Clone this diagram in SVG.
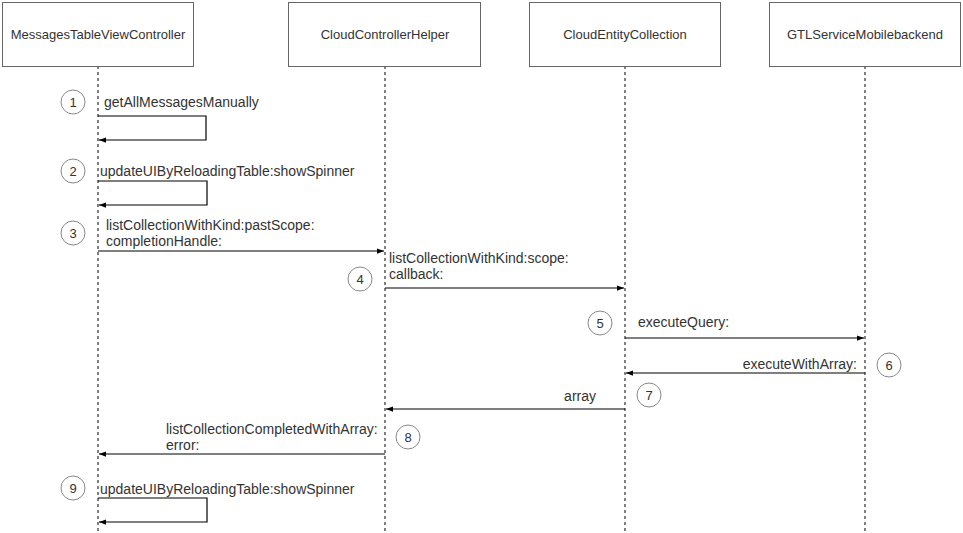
<svg xmlns="http://www.w3.org/2000/svg" width="963" height="533" viewBox="0 0 963 533">
<style>
.box{fill:#fff;stroke:#666;stroke-width:1}
.life{stroke:#000;stroke-width:1;stroke-dasharray:3,3;fill:none}
.msg{stroke:#000;stroke-width:1.2;fill:none}
.t{font-family:"Liberation Sans",Arial,sans-serif;font-size:13px;fill:#333}
.m{font-family:"Liberation Sans",Arial,sans-serif;font-size:14px;fill:#333}
.c{fill:#fff;stroke:#888;stroke-width:1}
.n{font-family:"Liberation Sans",Arial,sans-serif;font-size:13px;fill:#333;text-anchor:middle}
</style>
<defs>
<marker id="ah" viewBox="0 0 8 8" refX="8" refY="4" markerWidth="7" markerHeight="7" markerUnits="userSpaceOnUse" orient="auto">
<path d="M0,1 L8,4 L0,7 Z" fill="#000"/>
</marker>
</defs>
<rect width="963" height="533" fill="#fff"/>
<g id="lifelines">
<line class="life" x1="98" y1="66" x2="98" y2="533"/>
<line class="life" x1="385" y1="66" x2="385" y2="533"/>
<line class="life" x1="625" y1="66" x2="625" y2="533"/>
<line class="life" x1="865" y1="66" x2="865" y2="533"/>
</g>
<g id="node-mtvc"><rect class="box" x="2.5" y="2.5" width="191" height="64"/><text class="t" x="98" y="39" text-anchor="middle">MessagesTableViewController</text></g>
<g id="node-cch"><rect class="box" x="288.5" y="2.5" width="192" height="64"/><text class="t" x="385" y="39" text-anchor="middle">CloudControllerHelper</text></g>
<g id="node-cec"><rect class="box" x="529.5" y="2.5" width="191" height="64"/><text class="t" x="625" y="39" text-anchor="middle">CloudEntityCollection</text></g>
<g id="node-gtl"><rect class="box" x="769.5" y="2.5" width="191" height="64"/><text class="t" x="865" y="39" text-anchor="middle">GTLServiceMobilebackend</text></g>
<g id="connectors">
<path class="msg" d="M98,116 H206 V140 H99" marker-end="url(#ah)"/>
<path class="msg" d="M98,181 H207 V205 H99" marker-end="url(#ah)"/>
<path class="msg" d="M98,251 H384" marker-end="url(#ah)"/>
<path class="msg" d="M385,288 H624" marker-end="url(#ah)"/>
<path class="msg" d="M625,338 H864" marker-end="url(#ah)"/>
<path class="msg" d="M865,373 H626" marker-end="url(#ah)"/>
<path class="msg" d="M625,409 H386" marker-end="url(#ah)"/>
<path class="msg" d="M385,454 H99" marker-end="url(#ah)"/>
<path class="msg" d="M98,498 H207 V522 H99" marker-end="url(#ah)"/>
</g>
<g id="labels">
<text class="m" x="104" y="107">getAllMessagesManually</text>
<text class="m" x="100" y="176">updateUIByReloadingTable:showSpinner</text>
<text class="m" x="106" y="230">listCollectionWithKind:pastScope:</text>
<text class="m" x="106" y="246">completionHandle:</text>
<text class="m" x="389" y="263">listCollectionWithKind:scope:</text>
<text class="m" x="389" y="279">callback:</text>
<text class="m" x="638" y="327">executeQuery:</text>
<text class="m" x="857" y="369" text-anchor="end">executeWithArray:</text>
<text class="m" x="596" y="401" text-anchor="end">array</text>
<text class="m" x="166" y="434">listCollectionCompletedWithArray:</text>
<text class="m" x="166" y="450">error:</text>
<text class="m" x="100" y="494">updateUIByReloadingTable:showSpinner</text>
</g>
<g id="steps">
<g id="step1"><circle class="c" cx="73" cy="102" r="12"/><text class="n" x="73" y="107">1</text></g>
<g id="step2"><circle class="c" cx="73" cy="171" r="12"/><text class="n" x="73" y="176">2</text></g>
<g id="step3"><circle class="c" cx="73" cy="233" r="12"/><text class="n" x="73" y="238">3</text></g>
<g id="step4"><circle class="c" cx="360" cy="279" r="12"/><text class="n" x="360" y="284">4</text></g>
<g id="step5"><circle class="c" cx="600" cy="323" r="12"/><text class="n" x="600" y="328">5</text></g>
<g id="step6"><circle class="c" cx="889" cy="365" r="12"/><text class="n" x="889" y="370">6</text></g>
<g id="step7"><circle class="c" cx="649" cy="395" r="12"/><text class="n" x="649" y="400">7</text></g>
<g id="step8"><circle class="c" cx="408" cy="437" r="12"/><text class="n" x="408" y="442">8</text></g>
<g id="step9"><circle class="c" cx="73" cy="488" r="12"/><text class="n" x="73" y="493">9</text></g>
</g>
</svg>
